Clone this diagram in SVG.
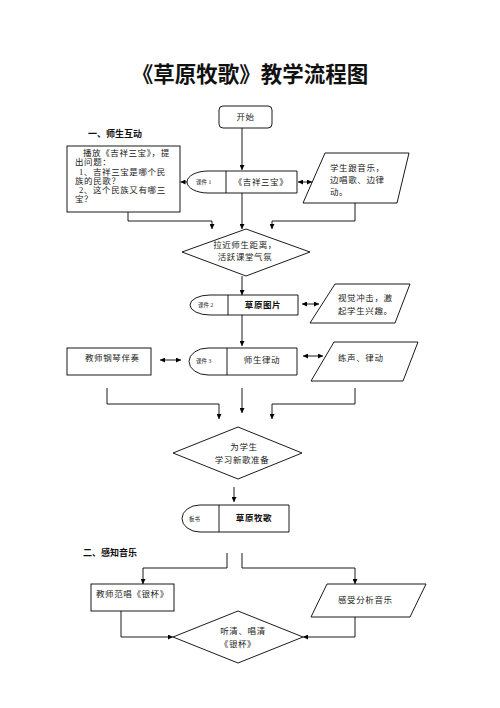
<svg xmlns="http://www.w3.org/2000/svg" width="500" height="708" viewBox="0 0 500 708">
<style>
.s{fill:#fff;stroke:#000;stroke-width:0.9}
.c{fill:none;stroke:#000;stroke-width:0.9}
.t{font-family:"Liberation Serif","Noto Sans CJK SC",serif;font-size:8.5px;fill:#222;letter-spacing:0.6px}
.m{text-anchor:middle}
.sm{font-family:"Liberation Serif","Noto Sans CJK SC",serif;font-size:5.5px;fill:#222}
.b{font-family:"Liberation Sans","Noto Sans CJK SC",sans-serif;font-weight:bold;fill:#111}
</style>
<defs>
<marker id="a" viewBox="0 0 10 10" refX="10" refY="5" markerWidth="5" markerHeight="5" orient="auto-start-reverse" markerUnits="userSpaceOnUse"><path d="M0,0 L10,5 L0,10 z" fill="#000"/></marker>
</defs>
<rect width="500" height="708" fill="#fff"/>
<g id="title"><text x="250" y="82" class="b m" font-size="21.5">《草原牧歌》教学流程图</text></g>
<g id="sec1"><text x="88" y="137" class="b" font-size="9">一、师生互动</text></g>
<g id="sec2"><text x="83" y="556" class="b" font-size="9">二、感知音乐</text></g>
<g id="start"><rect x="219" y="106" width="53" height="22" rx="4" class="s"/><text x="245.5" y="120" class="t m">开始</text></g>
<g id="leftbox1"><rect x="67" y="146" width="113" height="66" class="s"/>
<text class="t"><tspan x="83" y="156">播放《吉祥三宝》，提</tspan><tspan x="75" y="165">出问题：</tspan><tspan x="79" y="175">1、吉祥三宝是哪个民</tspan><tspan x="75" y="184">族的民歌？</tspan><tspan x="79" y="193">2、这个民族又有哪三</tspan><tspan x="75" y="202">宝？</tspan></text></g>
<g id="course1"><path d="M208,171 H297 V193 H208 A21,11 0 0 1 208,171 Z" class="s"/><line x1="226" y1="171" x2="226" y2="193" class="c"/><text x="196" y="184" class="sm">课件 1</text><text x="261" y="185" class="t m" font-size="9">《吉祥三宝》</text></g>
<g id="para1"><path d="M325,153 H409 L397,203 H303 Z" class="s"/><text class="t"><tspan x="330" y="171">学生跟音乐，</tspan><tspan x="330" y="183">边唱歌、边律</tspan><tspan x="330" y="195">动。</tspan></text></g>
<g id="diamond1"><path d="M246,229 L310,252 L246,276 L182,252 Z" class="s"/><text class="t m"><tspan x="245" y="248">拉近师生距离，</tspan><tspan x="245" y="260">活跃课堂气氛</tspan></text></g>
<g id="course2"><path d="M210,295 H298 V315 H210 A20,10 0 0 1 210,295 Z" class="s"/><line x1="228" y1="295" x2="228" y2="315" class="c"/><text x="198" y="307" class="sm">课件 2</text><text x="263" y="308" class="t m b" font-size="9" font-weight="bold">草原图片</text></g>
<g id="para2"><path d="M335,284 H410 L395,323 H310 Z" class="s"/><text class="t"><tspan x="338" y="301">视觉冲击，激</tspan><tspan x="338" y="314">起学生兴趣。</tspan></text></g>
<g id="leftbox3"><rect x="67" y="348" width="84" height="27" class="s"/><text x="85" y="361" class="t">教师钢琴伴奏</text></g>
<g id="course3"><path d="M208,348 H297 V375 H208 A19,13.5 0 0 1 208,348 Z" class="s"/><line x1="227" y1="348" x2="227" y2="375" class="c"/><text x="196" y="363" class="sm">课件 3</text><text x="262" y="363" class="t m" font-size="9">师生律动</text></g>
<g id="para3"><path d="M334,342 H418 L403,381 H311 Z" class="s"/><text x="338" y="361" class="t">练声、律动</text></g>
<g id="diamond2"><path d="M238,427 L302,453 L238,479 L173,453 Z" class="s"/><text class="t m"><tspan x="244" y="450">为学生</tspan><tspan x="242" y="463">学习新歌准备</tspan></text></g>
<g id="board"><path d="M200,505 H289 V532 H200 A18,13.5 0 0 1 200,505 Z" class="s"/><line x1="219" y1="505" x2="219" y2="532" class="c"/><text x="189" y="521" class="sm">板书</text><text x="254" y="521" class="t m b" font-size="9" font-weight="bold">草原牧歌</text></g>
<g id="leftbox4"><rect x="91" y="584" width="83" height="27" class="s"/><text x="96" y="597" class="t">教师范唱《银杯》</text></g>
<g id="para4"><path d="M327,584 H426 L410,617 H311 Z" class="s"/><text x="338" y="603" class="t">感受分析音乐</text></g>
<g id="diamond3"><path d="M238,611 L303,637 L238,663 L173,637 Z" class="s"/><text class="t m"><tspan x="243" y="634">听清、唱清</tspan><tspan x="238" y="647">《银杯》</tspan></text></g>
<g id="connectors" class="c">
<path d="M242,128 V170" class="c" marker-end="url(#a)"/>
<path d="M187,182 H180.5" class="c" marker-end="url(#a)"/>
<path d="M298,182 H312" class="c" marker-start="url(#a)" marker-end="url(#a)"/>
<path d="M242,193 V229" class="c" marker-end="url(#a)"/>
<path d="M128,212 V221 H212 V229" class="c" marker-end="url(#a)"/>
<path d="M355,203 V221 H272 V229" class="c" marker-end="url(#a)"/>
<path d="M242,276 V295" class="c" marker-end="url(#a)"/>
<path d="M302,304 H319" class="c" marker-start="url(#a)" marker-end="url(#a)"/>
<path d="M242,315 V346" class="c" marker-end="url(#a)"/>
<path d="M160,360 H181" class="c" marker-start="url(#a)" marker-end="url(#a)"/>
<path d="M303,356 H323" class="c" marker-start="url(#a)" marker-end="url(#a)"/>
<path d="M107,388 V404 H219 V419" class="c" marker-end="url(#a)"/>
<path d="M242,388 V413" class="c" marker-end="url(#a)"/>
<path d="M355,388 V404 H272 V419" class="c" marker-end="url(#a)"/>
<path d="M234,487 V502" class="c" marker-end="url(#a)"/>
<path d="M227,553 V568 H143 V584" class="c" marker-end="url(#a)"/>
<path d="M242,553 V568 H355 V584" class="c" marker-end="url(#a)"/>
<path d="M121,611 V637 H173" class="c" marker-end="url(#a)"/>
<path d="M355,617 V637 H303" class="c" marker-end="url(#a)"/>
</g>
</svg>
